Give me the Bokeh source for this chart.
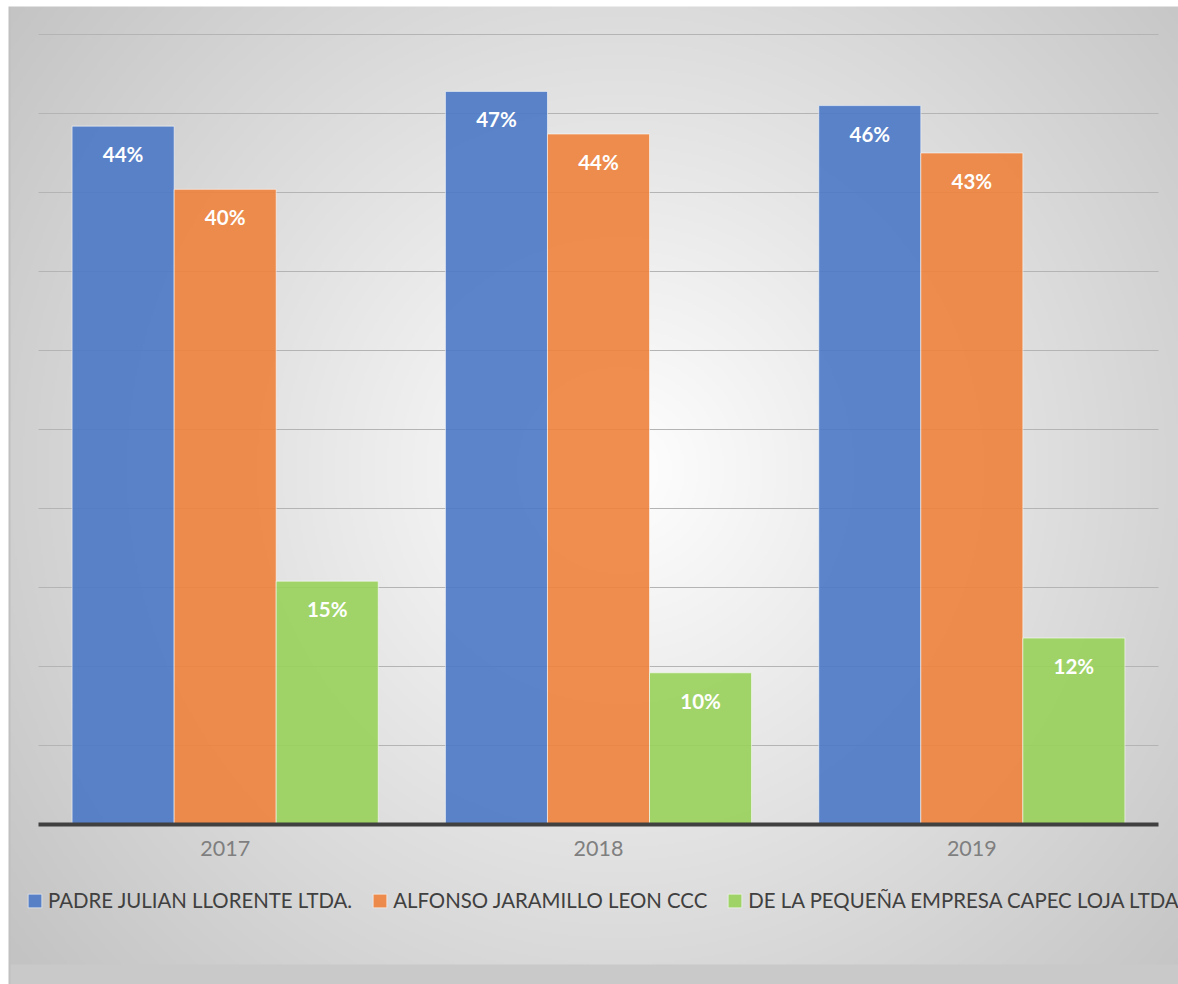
import numpy as np
from bokeh.plotting import figure
from bokeh.models import (Range1d, LinearAxis, FixedTicker, Legend, LegendItem, Grid)
from bokeh.core.properties import value
from bokeh.embed import file_html
from bokeh.resources import INLINE

# ---------------- data ----------------
years = ["2017", "2018", "2019"]
series_names = ["PADRE JULIAN LLORENTE LTDA.",
                "ALFONSO JARAMILLO LEON CCC",
                "DE LA PEQUEÑA EMPRESA CAPEC LOJA LTDA"]
padre = [44.2, 46.4, 45.5]
alfonso = [40.2, 43.7, 42.5]
capec = [15.4, 9.6, 11.8]
padre_labels = ["44%", "47%", "46%"]
alfonso_labels = ["40%", "44%", "43%"]
capec_labels = ["15%", "10%", "12%"]
grid_ticks = [5, 10, 15, 20, 25, 30, 35, 40, 45, 50]

colors = ["#4a78c5", "#ed823c", "#98d25a"]

# ---------------- geometry ----------------
W, H = 1178, 984
cat_px = 373.33
x0_px = 38          # pixel of category start
y0_px = 824         # pixel of value 0
unit_px = 15.8      # pixels per value unit

xr = Range1d(-x0_px / cat_px, 3 + (W - x0_px - 3 * cat_px) / cat_px)
yr = Range1d(-(H - y0_px) / unit_px, y0_px / unit_px)

p = figure(width=W, height=H, x_range=xr, y_range=yr,
           x_axis_type=None, y_axis_type=None,
           toolbar_location=None, output_backend="svg",
           min_border=0)
p.outline_line_color = None
p.border_fill_color = "white"
p.background_fill_color = "white"

# ---------------- background gradient ----------------
step = 2
ys, xs = np.mgrid[0:H:step, 0:W:step]
xs = xs + step / 2
ys = ys + step / 2
r = np.hypot(xs - 620, ys - 470)
v = 255 - 60 * np.clip(r / 780, 0, 1)
v[ys >= 964] = 201
v[(xs < 10) & (xs >= 8)] = 192
v[xs < 8] = 255
v[ys < 6] = 255
rgba = np.zeros(v.shape + (4,), dtype=np.uint8)
rgba[..., 0] = v
rgba[..., 1] = v
rgba[..., 2] = v
rgba[..., 3] = 255
img = np.flipud(rgba).copy().view(dtype=np.uint32).reshape(v.shape)
p.image_rgba(image=[img], x=xr.start, y=yr.start,
             dw=xr.end - xr.start, dh=yr.end - yr.start, level="image")

# ---------------- grid ----------------
grid = Grid(dimension=1, ticker=FixedTicker(ticks=grid_ticks),
            grid_line_color="#b4b4b4", grid_line_width=1,
            cross_bounds=(0, 3))
p.add_layout(grid)

# ---------------- bars ----------------
group_w = 0.82
bw = group_w / 3
centers = np.arange(len(years)) + 0.5
all_vals = [padre, alfonso, capec]
all_labels = [padre_labels, alfonso_labels, capec_labels]
renderers = []
for j, (vals, labs, col) in enumerate(zip(all_vals, all_labels, colors)):
    xs_b = centers + (j - 1) * bw
    rr = p.vbar(x=xs_b, top=vals, bottom=0, width=bw,
                fill_color=col, fill_alpha=0.9,
                line_color="white", line_alpha=0.55, line_width=1)
    renderers.append(rr)
    p.text(x=xs_b, y=vals, text=labs, text_color="white",
           text_font=value("Lato"), text_font_style="bold",
           text_font_size="20.5px", text_align="center",
           text_baseline="middle", y_offset=28)

# ---------------- x axis ----------------
xaxis = LinearAxis(fixed_location=0,
                   ticker=FixedTicker(ticks=list(centers)),
                   major_label_overrides={float(c): y for c, y in zip(centers, years)},
                   bounds=(0, 3))
xaxis.axis_line_width = 4
xaxis.axis_line_color = "#404040"
xaxis.major_tick_line_color = None
xaxis.minor_tick_line_color = None
xaxis.major_tick_out = 0
xaxis.major_tick_in = 0
xaxis.major_label_standoff = 16
xaxis.major_label_text_font = "Lato"
xaxis.major_label_text_font_size = "21.5px"
xaxis.major_label_text_color = "#7f7f7f"
p.add_layout(xaxis, "below")

# ---------------- legend ----------------
legend = Legend(items=[LegendItem(label=n, renderers=[r_]) for n, r_ in zip(series_names, renderers)],
                orientation="horizontal", location=(26, 72),
                label_text_font="Lato", label_text_font_size="20.4px",
                label_text_color="#404040",
                glyph_width=17, glyph_height=17, label_standoff=5,
                spacing=19, padding=0, margin=0,
                background_fill_alpha=0, border_line_alpha=0)
p.add_layout(legend)

open("out.html", "w").write(file_html(p, INLINE))
